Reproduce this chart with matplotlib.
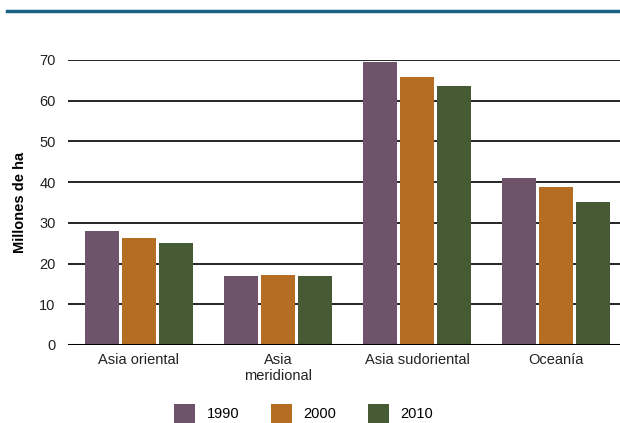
import matplotlib.pyplot as plt
from matplotlib.lines import Line2D
from matplotlib.patches import Patch
import numpy as np

regiones = ["Asia oriental", "Asia\nmeridional", "Asia sudoriental", "Oceanía"]
anios = ["1990", "2000", "2010"]
v1990 = [28.0, 16.9, 69.5, 41.0]
v2000 = [26.2, 17.1, 65.8, 38.8]
v2010 = [25.0, 16.9, 63.6, 35.1]
colores = ["#6f536a", "#b56d24", "#465a33"]

plt.rcParams['font.family'] = ['Liberation Sans', 'DejaVu Sans']

fig = plt.figure(figsize=(6.2, 4.23), dpi=100)
ax = fig.add_axes([0.1097, 0.1844, 0.8903, 0.6738])

x = np.arange(len(regiones))
ancho = 34 / 139
paso = 37 / 139
for i, (serie, c) in enumerate(zip([v1990, v2000, v2010], colores)):
    ax.bar(x + (i - 1) * paso, serie, width=ancho, color=c, zorder=3)

ax.set_ylim(0, 70)
ax.set_xlim(-0.51, 3.46)
ax.set_yticks(range(0, 71, 10))
for t in range(10, 71, 10):
    ax.axhline(t, color="black", lw=1.2, zorder=1)
ax.axhline(0, color="black", lw=2.2, zorder=4)
for s in ax.spines.values():
    s.set_visible(False)
ax.tick_params(axis="y", length=0, pad=9, labelsize=10.5, colors="#222222")
ax.tick_params(axis="x", length=0, pad=6, labelsize=10.5, colors="#222222")
ax.set_xticks(x)
ax.set_xticklabels(regiones, va="top", ha="center", linespacing=1.15)
ax.set_ylabel("Millones de ha", fontsize=10.5, fontweight="bold", labelpad=9)

fig.add_artist(Line2D([7 / 620, 1], [1 - 11 / 423, 1 - 11 / 423],
                      color="#1b6286", lw=2.5, transform=fig.transFigure))

handles = [Patch(facecolor=c, label=a) for c, a in zip(colores, anios)]
fig.legend(handles=handles, loc="lower center", bbox_to_anchor=(0.49, -0.03),
           ncol=3, frameon=False, fontsize=10.5, handlelength=1.4, handleheight=1.6,
           columnspacing=2.2, handletextpad=0.8)

fig.savefig("out.png", dpi=100)
